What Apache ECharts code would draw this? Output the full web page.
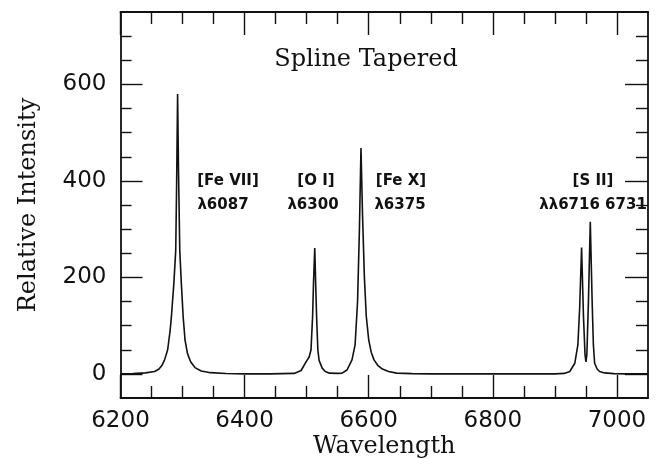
<!DOCTYPE html>
<html>
<head>
<meta charset="utf-8">
<script src="https://cdn.jsdelivr.net/npm/echarts@6/dist/echarts.min.js"></script>
<style>
  html, body { margin: 0; padding: 0; background: #fff; }
  #chart { width: 656px; height: 459px; }
</style>
</head>
<body>
<div id="chart"></div>
<script>
// Emission-line spectrum: wavelength (Å) vs relative intensity
const wavelength = [
  6200, 6220, 6240, 6255, 6262, 6267, 6271, 6276, 6280, 6282, 6286, 6289, 6290.5, 6292,
  6293.5, 6295.5, 6298, 6301, 6304, 6308, 6313, 6320, 6330, 6345, 6370, 6400,
  6440, 6480, 6491, 6499, 6504, 6507, 6509.5, 6511, 6513, 6514.5, 6516, 6518, 6520,
  6525, 6530, 6537, 6550, 6557, 6565, 6573, 6578, 6582, 6585, 6587.5, 6590, 6593,
  6596, 6600, 6604, 6608.5, 6615, 6622, 6632, 6645, 6670, 6700,
  6800, 6900, 6915, 6924, 6932, 6937, 6940, 6943, 6946, 6948.5, 6950, 6951.5, 6954,
  6957, 6960, 6962, 6964, 6968, 6972, 6980, 6995, 7020, 7050
];
const intensity = [
  0, 0.5, 2, 5, 10, 18, 29, 50, 90, 118, 188, 256, 400, 580,
  420, 256, 188, 118, 70, 42, 25, 13, 6, 2.5, 0.8, 0,
  0, 1, 7, 25, 35, 50, 118, 188, 261, 188, 118, 50, 28,
  12, 5, 1.5, 1, 1.5, 8, 29, 60, 150, 300, 468, 330, 200,
  120, 70, 45, 29, 17, 10, 5, 1.5, 0.5, 0,
  0, 0, 1, 5, 22, 60, 140, 262, 120, 40, 25, 40, 150,
  315, 150, 60, 22, 10, 5, 2, 0.5, 0, 0
];

// Axis ticks and labels
const xMajorTicks = [6200, 6400, 6600, 6800, 7000];
const xMinorTicks = [6250, 6300, 6350, 6450, 6500, 6550, 6650, 6700, 6750,
                     6850, 6900, 6950];
const yMajorTicks = [0, 200, 400, 600];
const yMinorTicks = [50, 100, 150, 250, 300, 350, 450, 500, 550, 650, 700];

// Line identifications
const lineIds = [
  { name: '[Fe VII]', wave: 'λ6087', x1: 228, x2: 223 },
  { name: '[O I]', wave: 'λ6300', x1: 316, x2: 313 },
  { name: '[Fe X]', wave: 'λ6375', x1: 401, x2: 400 },
  { name: '[S II]', wave: 'λλ6716 6731', x1: 593, x2: 593 }
];

const X_MIN = 6200, X_MAX = 7050, Y_MIN = -50, Y_MAX = 750;
const INK = '#111';
const tickFont = { fontFamily: 'DejaVu Sans', fontSize: 23, color: INK };
const nameFont = { fontFamily: 'DejaVu Serif', fontSize: 24, color: INK };
const plain = function (v) { return String(v); };

function xAxisDef(position, ticks, len, withLabels, withLine) {
  return {
    type: 'value', position, min: X_MIN, max: X_MAX,
    axisLine: { show: withLine, onZero: false, lineStyle: { color: INK, width: 1.8 } },
    axisTick: { show: true, inside: true, length: len, customValues: ticks,
                lineStyle: { color: INK, width: 1.4 } },
    axisLabel: withLabels
      ? Object.assign({ show: true, margin: 12, customValues: xMajorTicks,
                        formatter: plain }, tickFont)
      : { show: false },
    splitLine: { show: false }
  };
}
function yAxisDef(position, ticks, len, withLabels, withLine) {
  return {
    type: 'value', position, min: Y_MIN, max: Y_MAX,
    axisLine: { show: withLine, onZero: false, lineStyle: { color: INK, width: 1.8 } },
    axisTick: { show: true, inside: true, length: len, customValues: ticks,
                lineStyle: { color: INK, width: 1.4 } },
    axisLabel: withLabels
      ? Object.assign({ show: true, margin: 14, customValues: yMajorTicks,
                        formatter: plain }, tickFont)
      : { show: false },
    splitLine: { show: false }
  };
}

const xAxes = [
  xAxisDef('bottom', xMajorTicks, 23, true, true),
  xAxisDef('bottom', xMinorTicks, 12, false, false),
  xAxisDef('top', xMajorTicks, 23, false, true),
  xAxisDef('top', xMinorTicks, 12, false, false)
];
Object.assign(xAxes[0], {
  name: 'Wavelength', nameLocation: 'middle', nameGap: 37,
  nameMoveOverlap: false, nameTextStyle: nameFont
});

const yAxes = [
  yAxisDef('left', yMajorTicks, 22, true, true),
  yAxisDef('left', yMinorTicks, 11, false, false),
  yAxisDef('right', yMajorTicks, 23, false, true),
  yAxisDef('right', yMinorTicks, 12, false, false)
];
Object.assign(yAxes[0], {
  name: 'Relative Intensity', nameLocation: 'middle', nameGap: 80,
  nameMoveOverlap: false, nameTextStyle: nameFont
});

const annoFont = 'bold 15px "DejaVu Sans"';
const graphics = [{
  type: 'text', x: 366, y: 60,
  style: { text: 'Spline Tapered', font: '24px "DejaVu Serif"', fill: INK,
           align: 'center', verticalAlign: 'middle' }
}];
lineIds.forEach(function (d) {
  graphics.push({
    type: 'text', x: d.x1, y: 181,
    style: { text: d.name, font: annoFont, fill: INK, align: 'center', verticalAlign: 'middle' }
  });
  graphics.push({
    type: 'text', x: d.x2, y: 205,
    style: { text: d.wave, font: annoFont, fill: INK, align: 'center', verticalAlign: 'middle' }
  });
});

const chart = echarts.init(document.getElementById('chart'), null, { renderer: 'canvas' });
chart.setOption({
  animation: false,
  backgroundColor: '#fff',
  grid: { left: 120.5, right: 8, top: 12, bottom: 61, containLabel: false,
          outerBoundsMode: 'none' },
  xAxis: xAxes,
  yAxis: yAxes,
  graphic: graphics,
  series: [{
    type: 'line',
    xAxisIndex: 0, yAxisIndex: 0,
    data: wavelength.map(function (w, i) { return [w, intensity[i]]; }),
    showSymbol: false,
    smooth: false,
    clip: true,
    lineStyle: { color: INK, width: 1.6 }
  }]
});
</script>
</body>
</html>
